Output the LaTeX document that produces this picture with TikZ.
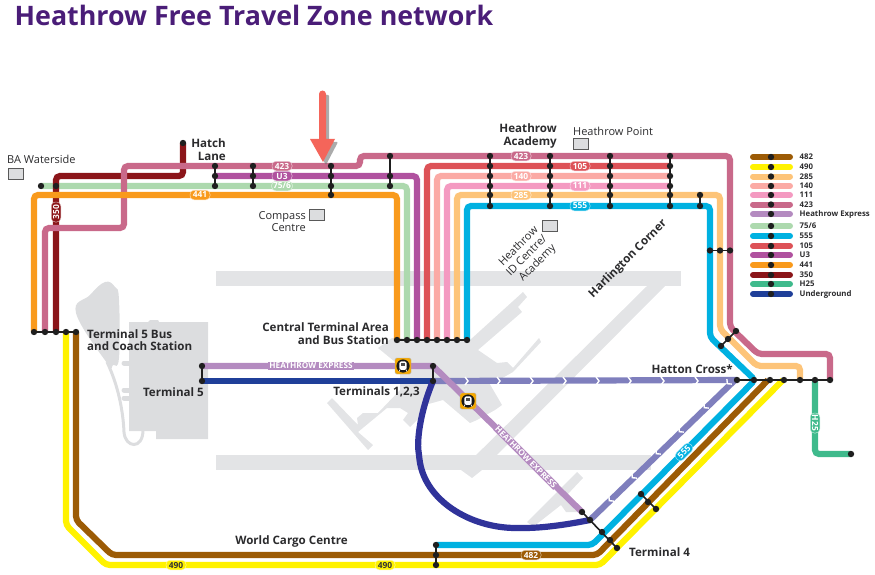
\documentclass[tikz,border=0pt]{standalone}
\usepackage{fontspec}
\setmainfont{Open Sans}
\definecolor{cTitle}{HTML}{4A1D78}
\definecolor{cGrey}{HTML}{E3E4E6}
\definecolor{cT}{HTML}{DCDDDF}
\definecolor{cText}{HTML}{2B2B2D}
\definecolor{c482}{HTML}{9C5B05}
\definecolor{c490}{HTML}{FFF200}
\definecolor{c285}{HTML}{FDC479}
\definecolor{c140}{HTML}{FBAAA5}
\definecolor{c111}{HTML}{F49AC1}
\definecolor{c423}{HTML}{C9698A}
\definecolor{cHEX}{HTML}{B48BC0}
\definecolor{c756}{HTML}{ADD9AE}
\definecolor{c555}{HTML}{00B1E1}
\definecolor{c105}{HTML}{DD5257}
\definecolor{cU3}{HTML}{B0529F}
\definecolor{c441}{HTML}{F99A1C}
\definecolor{c350}{HTML}{8B1519}
\definecolor{cH25}{HTML}{3FBA8C}
\definecolor{cUG}{HTML}{1F3F99}
\definecolor{cCurve}{HTML}{30339A}
\definecolor{cPic}{HTML}{7F7FBD}
\definecolor{cArrow}{HTML}{F4655A}
\definecolor{cIcon}{HTML}{F5A800}
\tikzset{
  route/.style={line width=6.2pt,rounded corners=4pt,color=#1},
  bar/.style={line width=1.6pt,color=black!88},
  stopdot/.style={circle,fill=black!88,inner sep=0pt,minimum size=6.4pt},
  pill/.style={fill=#1,draw=white!65!#1,line width=.5pt,rounded corners=4pt,text=white,inner xsep=1.5pt,inner ysep=0pt,minimum width=20pt,minimum height=9.5pt,font=\bfseries\fontsize{8.4}{9}\selectfont},
  hexpill/.style={fill=cHEX,text=white,inner xsep=1pt,inner ysep=0pt,minimum height=8pt,font=\bfseries\fontsize{8.2}{9}\selectfont},
  station/.style={inner sep=0pt,text=cText,font=\bfseries\fontsize{11.6}{12.6}\selectfont},
  place/.style={inner sep=0pt,text=cText,font=\fontsize{11}{12.6}\selectfont},
  bldg/.style={draw=black!65,fill=cT,line width=.8pt,minimum width=15pt,minimum height=11pt,inner sep=0pt},
  legbar/.style={line width=6pt,line cap=round,color=#1},
  legtext/.style={inner sep=0pt,anchor=west,text=cText,font=\bfseries\fontsize{7.8}{9}\selectfont},
  chev/.style={line width=1.4pt,color=white},
  icon/.style={fill=cIcon,draw=black!30,line width=.4pt,rounded corners=1.5pt,minimum size=16pt,inner sep=0pt},
}
\def\stoplist{a1/41/186,a2/56/186,hl/183/143,
 b1/215/166,b2/215/176,b3/215/186,c1/253/166,c2/253/176,c3/253/186,
 d1/331/166,d2/331/176,d3/331/186,d4/331/195,e1/390/156,e2/390/176,e3/390/186,
 f1/490/156,f2/490/166,f3/490/176,f4/490/186,f5/490/195,f6/490/206,
 g1/550/156,g2/550/166,g3/550/176,g4/550/186,g5/550/195,g6/550/206,
 i1/610/156,i2/610/166,i3/610/176,i4/610/186,i5/610/195,i6/610/206,
 j1/670/156,j2/670/166,j3/670/176,j4/670/186,j5/670/195,j6/670/206,
 k1/700/195,k2/700/206,l1/710/250.5,l2/720/250.5,l3/730/250.5,
 m1/34/332,m2/45/332,m3/56/332,m4/66/332,m5/76/332,
 n1/397/340,n2/407/340,n3/417/340,n4/427/340,n5/437/340,n6/447/340,n7/457/340,n8/467/340,
 t5a/202/366,t5b/202/381,t1a/433/366,t1b/433/381,
 h1/737/380,h2/754/380,h3/770/380,h4/784/380,h5/800/380,h6/815/380,h7/830/380,
 q1/721/346,q2/728/339,q3/736/331,
 r1/582/512,r2/590/520,r3/602/532,r4/610/540,r5/617/548,
 s1/641/494,s2/648/502,s3/656/509,
 w1/436/545,w2/436/555,w3/436/565,he/851/454}
\begin{document}
\begin{tikzpicture}[x=1pt,y=-1pt]
\useasboundingbox (0,0) rectangle (875,575);
\foreach \n/\x/\y in \stoplist {\coordinate (\n) at (\x,\y);}
% airfield
\fill[cGrey] (216,271) rectangle (681,286);
\fill[cGrey] (216,455) rectangle (651,470);
\fill[cGrey] (647,286) -- (665,286) -- (482,470) -- (472,478) -- (461,470) -- cycle;
\fill[cGrey] (378,348) -- (392,338) -- (470,340) -- (523,292) -- (527,297) -- (518,307) -- (522,312) -- (478,350) -- (497,363) -- (507,362) -- (513,368) -- (539,338) -- (541,342) -- (513,372) -- (497,381) -- (488,381) -- (502,405) -- (495,410) -- (477,420) -- (470,423) -- (443,400) -- (425,405) -- (420,417) -- (410,427) -- (403,420) -- (408,413) -- (400,408) -- (387,408) -- (358,432) -- (373,445) -- (368,450) -- (327,403) -- (332,398) -- (358,425) -- (357,418) -- (363,413) -- (378,413) -- (400,390) -- (400,366) -- cycle;
\fill[cGrey] (577,472) -- (583,478) -- (567,495) -- (574,502) -- (580,512) -- (566,512) -- (561,505) -- (533,527) -- (527,522) -- cycle;
\fill[cT] (129,322) -- (148,322) -- (150,320) -- (158,320) -- (159,322) -- (208,322) -- (208,439) -- (156,439) -- (156,431) -- (129,431) -- cycle;
\fill[cT] plot[smooth cycle,tension=.7] coordinates {(76,313) (90,295) (105,282) (115,287) (119,300) (119,358) (113,365) (107,363)};
\draw[cT,line width=3pt] (107,362) .. controls (118,385) and (123,410) .. (124,432) .. controls (125,448) and (143,450) .. (143,430);
\foreach \yy in {363,390,398} {\draw[cT,line width=5pt,line cap=round] (124,\yy) -- (131,\yy);}
% routes
\draw[route=c756] (a1) -- (407,186) -- (n2);
\draw[route=cU3] (b2) -- (417,176) -- (n3);
\draw[route=c350] (hl) -- (183,176) -- (56,176) -- (m3);
\draw[route=c423] (m2) -- (45,228) -- (124,228) -- (124,166) -- (360,166) -- (360,156) -- (730,156) -- (730,327) -- (758,354) -- (830,354) -- (h7);
\draw[route=c441] (m1) -- (34,195) -- (397,195) -- (n1);
\draw[route=c105] (n4) -- (427,166) -- (j2);
\draw[route=c140] (n5) -- (437,176) -- (j3);
\draw[route=c111] (n6) -- (447,186) -- (j4);
\draw[route=c285] (n7) -- (457,195) -- (720,195) -- (720,329) -- (757,366) -- (800,366) -- (h5);
\draw[route=c490] (m4) -- (66,525) -- (106,565) -- (600,565) -- (783,380);
\draw[route=c482] (m5) -- (76,520) -- (112,555) -- (597,555) -- (768,380);
\draw[route=c555] (n8) -- (467,206) -- (710,206) -- (710,337) -- (755,380) -- (592,545) -- (w1);
\draw[route=cH25] (h6) -- (815,454) -- (he);
\draw[route=cPic,rounded corners=0pt] (t1b) -- (h1);
\draw[route=cPic,rounded corners=0pt] (735,380) -- (r2);
\draw[route=cHEX,rounded corners=2pt] (t5a) -- (t1a) -- (r1);
\draw[route=cUG] (t5b) -- (t1b);
\draw[route=cCurve] (t1b) .. controls (420,412) and (417,440) .. (419,455) .. controls (424,500) and (470,528) .. (520,528) .. controls (545,528) and (570,524) .. (r2);
% chevrons
\foreach \xx in {467,499,532,565,598,630,663,697} {\draw[chev] (\xx-2,377) -- (\xx+1,381) -- (\xx-2,385);}
\foreach \xx/\yy in {728/383,705/407,680/431,657/453,633/477,610/500} {\draw[chev] (\xx+3.9,\yy+1.1) -- (\xx-.7,\yy+.7) -- (\xx-1.1,\yy-3.9);}
% interchange bars
\draw[bar] (b1) -- (b3);
\draw[bar] (c1) -- (c3);
\draw[bar] (d1) -- (d4);
\draw[bar] (e1) -- (e3);
\draw[bar] (f1) -- (f6);
\draw[bar] (g1) -- (g6);
\draw[bar] (i1) -- (i6);
\draw[bar] (j1) -- (j6);
\draw[bar] (k1) -- (k2);
\draw[bar] (l1) -- (l3);
\draw[bar] (m1) -- (m5);
\draw[bar] (n1) -- (n8);
\draw[bar] (t5a) -- (t5b);
\draw[bar] (t1a) -- (t1b);
\draw[bar] (h1) -- (h7);
\draw[bar] (q1) -- (q3);
\draw[bar] (r1) -- (r5);
\draw[bar] (s1) -- (s3);
\draw[bar] (w1) -- (w3);
\foreach \n/\x/\y in \stoplist {\node[stopdot] (dot-\n) at (\n) {};}
% route labels
\node[pill=c423] (p1) at (282,166) {423};
\node[pill=cU3] (p2) at (282,176) {U3};
\node[pill=c756] (p3) at (282,186) {75/6};
\node[pill=c441] (p4) at (200,195) {441};
\node[pill=c350,rotate=90] (p5) at (56,212) {350};
\node[pill=c423] (p6) at (521,156) {423};
\node[pill=c105] (p7) at (580,166) {105};
\node[pill=c140] (p8) at (521,176) {140};
\node[pill=c111] (p9) at (580,186) {111};
\node[pill=c285] (p10) at (521,195) {285};
\node[pill=c555] (p11) at (580,206) {555};
\node[pill=cH25,rotate=-90] (p12) at (815,423) {H25};
\node[pill=c555,rotate=45] (p13) at (684,452) {555};
\node[pill=c482] (p14) at (531,555) {482};
\node[pill=c490,text=black!80] (p15) at (176,565) {490};
\node[pill=c490,text=black!80] (p16) at (385,565) {490};
\node[hexpill] (p17) at (311,366) {HEATHROW EXPRESS};
\node[hexpill,rotate=-45] (p18) at (526,457) {HEATHROW EXPRESS};
% train icons
\foreach \nm/\xx/\yy in {ic1/403/366,ic2/468/401} {
  \node[icon] (\nm) at (\xx,\yy) {};
  \fill[black!90] (\nm) circle (6.6pt);
  \fill[white,rounded corners=1.5pt] (\xx-3.6,\yy-4.6) rectangle (\xx+3.6,\yy+3.8);
  \fill[black!70] (\xx-2.4,\yy-3) rectangle (\xx+2.4,\yy);
  \draw[white,line width=.6pt] (\xx-3,\yy+3.6) -- (\xx-4,\yy+5.6) (\xx+3,\yy+3.6) -- (\xx+4,\yy+5.6);
}
% arrow
\fill[black!55,opacity=.6,rounded corners=1pt] (323,95) -- (329,95) -- (329,142) -- (338,142) -- (326,165) -- (313,142) -- (323,142) -- cycle;
\fill[cArrow] (319,94) arc[start angle=180,end angle=0,radius=3.5pt] -- (326,139) -- (335,139) -- (323,162) -- (310,139) -- (319,139) -- cycle;
% title
\node[inner sep=0pt,anchor=base west,text=cTitle,font=\bfseries\fontsize{26.8}{30}\selectfont] (title) at (14.5,26) {Heathrow Free Travel Zone network};
% station labels
\node[station,align=right,anchor=east] (tHatch) at (226,149.5) {Hatch\\Lane};
\node[place,anchor=west] (tBA) at (7,159) {BA Waterside};
\node[bldg] (bBA) at (15.5,173.5) {};
\node[place,align=right,anchor=east] (tCompass) at (306,221.5) {Compass\\Centre};
\node[bldg] (bCompass) at (316.5,214.5) {};
\node[station,align=right,anchor=east] (tAcademy) at (557,136) {Heathrow\\Academy};
\node[place,anchor=west] (tPoint) at (573,131) {Heathrow Point};
\node[bldg] (bPoint) at (580.5,143.5) {};
\node[bldg] (bID) at (549.5,226) {};
\node[place,align=right,rotate=45] (tID) at (527,256) {Heathrow\\ID Centre/\\Academy};
\node[station,rotate=45] (tHarl) at (628,259) {Harlington Corner};
\node[station,align=left,anchor=west] (tBus) at (87,340) {Terminal 5 Bus\\and Coach Station};
\node[station,align=right,anchor=east] (tCentral) at (389,333.5) {Central Terminal Area\\and Bus Station};
\node[station,anchor=east] (tT5) at (204,392) {Terminal 5};
\node[station,anchor=east] (tT123) at (420,392) {Terminals 1,2,3};
\node[station,anchor=east] (tHatton) at (733,369) {Hatton Cross*};
\node[station] (tWC) at (291.5,541) {World Cargo Centre};
\node[station,anchor=west] (tT4) at (629,552) {Terminal 4};
% legend
\foreach \cc/\yy/\tt in {c482/157/482,c490/167/490,c285/176.5/285,c140/186/140,c111/195/111,c423/204.5/423,cHEX/214/Heathrow Express,c756/226/75\slash 6,c555/236/555,c105/246/105,cU3/255/U3,c441/265/441,c350/275/350,cH25/284/H25,cUG/294/Underground} {
  \coordinate (lg\cc a) at (753,\yy);
  \coordinate (lg\cc b) at (790,\yy);
  \draw[legbar=\cc] (lg\cc a) -- (lg\cc b);
  \node[stopdot] (lg\cc d) at (771,\yy) {};
  \node[legtext] (lg\cc t) at (799.5,\yy) {\tt};
}
\end{tikzpicture}
\end{document}
